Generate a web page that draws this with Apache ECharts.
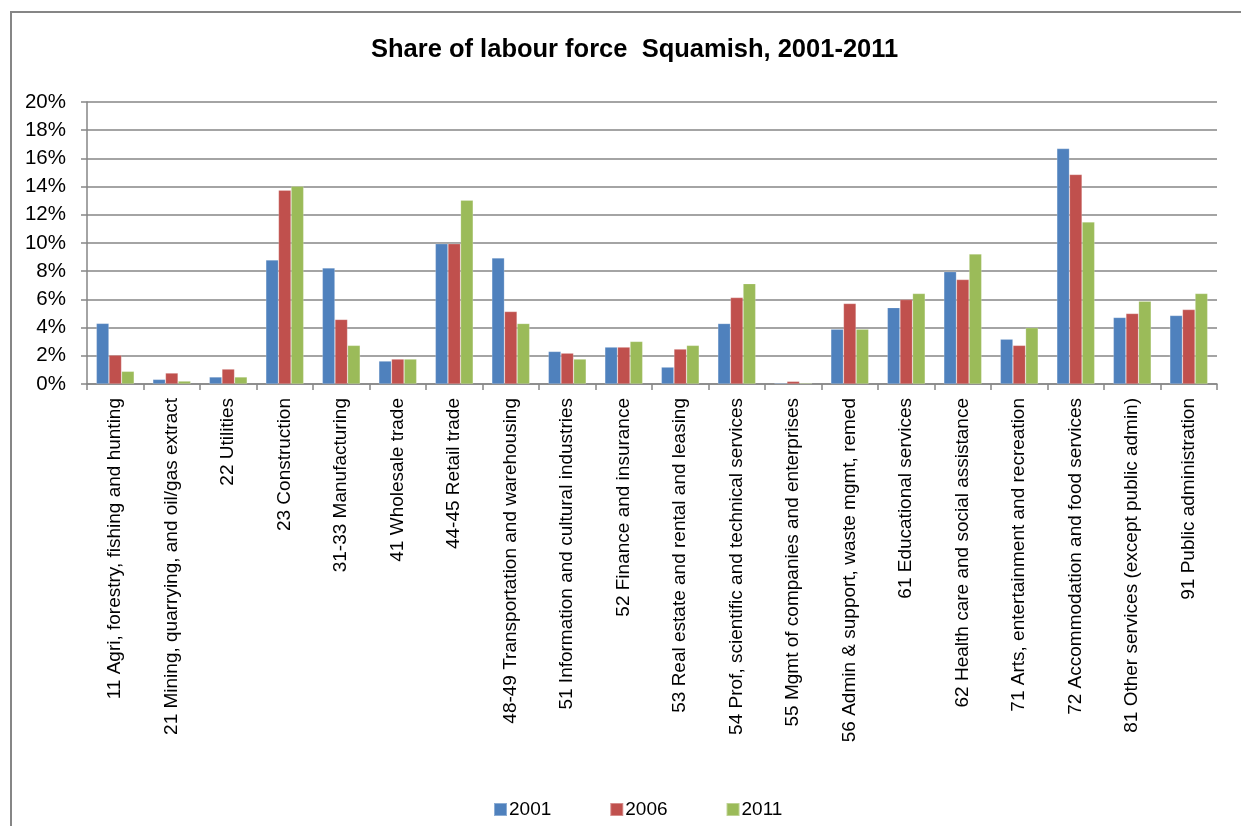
<!DOCTYPE html>
<html>
<head>
<meta charset="utf-8">
<title>Share of labour force Squamish, 2001-2011</title>
<script src="https://cdn.jsdelivr.net/npm/echarts@6/dist/echarts.min.js"></script>
<style>
  html, body { margin: 0; padding: 0; background: #fff; }
  #chart { width: 1241px; height: 826px; }
</style>
</head>
<body>
<div id="chart"></div>
<script>
// Industry categories (NAICS sectors)
const categories = [
  '11 Agri, forestry, fishing and hunting',
  '21 Mining, quarrying, and oil/gas extract',
  '22 Utilities',
  '23 Construction',
  '31-33 Manufacturing',
  '41 Wholesale trade',
  '44-45 Retail trade',
  '48-49 Transportation and warehousing',
  '51 Information and cultural industries',
  '52 Finance and insurance',
  '53 Real estate and rental and leasing',
  '54 Prof, scientific and technical services',
  '55 Mgmt of companies and enterprises',
  '56 Admin & support, waste mgmt, remed',
  '61 Educational services',
  '62 Health care and social assistance',
  '71 Arts, entertainment and recreation',
  '72 Accommodation and food services',
  '81 Other services (except public admin)',
  '91 Public administration'
];

// Share of labour force, percent
const share2001 = [4.3, 0.33, 0.5, 8.8, 8.23, 1.63, 9.95, 8.94, 2.31, 2.62, 1.2, 4.29, 0.07, 3.89, 5.42, 7.97, 3.18, 16.7, 4.72, 4.86];
const share2006 = [2.05, 0.78, 1.06, 13.75, 4.58, 1.77, 9.95, 5.14, 2.19, 2.62, 2.48, 6.13, 0.19, 5.71, 5.99, 7.41, 2.74, 14.86, 5.0, 5.28];
const share2011 = [0.9, 0.21, 0.5, 14.03, 2.74, 1.77, 13.04, 4.29, 1.77, 3.02, 2.74, 7.12, 0.07, 3.89, 6.42, 9.22, 4.0, 11.49, 5.87, 6.42];

const seriesNames = ['2001', '2006', '2011'];
const seriesColors = ['#4F81BD', '#C0504D', '#9BBB59'];

const FONT = '"Liberation Sans", Arial, sans-serif';

const chart = echarts.init(document.getElementById('chart'), null, { renderer: 'canvas' });

function barSeries(name, data, color) {
  return {
    name: name,
    type: 'bar',
    data: data,
    barGap: '0%',
    barCategoryGap: '33%',
    itemStyle: { color: color, borderColor: 'rgba(255,255,255,0.35)', borderWidth: 0.6 }
  };
}

chart.setOption({
  animation: false,
  backgroundColor: '#ffffff',
  textStyle: { fontFamily: FONT, color: '#000' },
  graphic: [{
    type: 'rect',
    shape: { x: 11, y: 12, width: 1260, height: 840 },
    style: { fill: 'none', stroke: '#868686', lineWidth: 2 },
    silent: true,
    z: -1
  }],
  title: {
    text: 'Share of labour force  Squamish, 2001-2011',
    left: 366,
    top: 32,
    textStyle: { fontFamily: FONT, fontSize: 25.5, fontWeight: 'bold', color: '#000' }
  },
  legend: {
    data: seriesNames,
    left: 488,
    top: 795,
    itemWidth: 13,
    itemHeight: 13,
    itemGap: 58,
    icon: 'rect',
    textStyle: { fontFamily: FONT, fontSize: 19, color: '#000', padding: [0, 0, 0, -3] }
  },
  grid: { left: 87, right: 24, top: 102, bottom: 442, containLabel: false },
  xAxis: {
    type: 'category',
    data: categories,
    boundaryGap: true,
    axisLine: { show: true, lineStyle: { color: '#868686', width: 1.5 } },
    axisTick: { show: true, alignWithLabel: false, length: 6, lineStyle: { color: '#868686', width: 1.5 } },
    axisLabel: {
      interval: 0,
      rotate: 90,
      margin: 14,
      fontFamily: FONT,
      fontSize: 19,
      color: '#000'
    }
  },
  yAxis: {
    type: 'value',
    min: 0,
    max: 20,
    interval: 2,
    axisLine: { show: true, lineStyle: { color: '#868686', width: 1.5 } },
    axisTick: { show: true, length: 6, lineStyle: { color: '#868686', width: 1.5 } },
    splitLine: { show: true, lineStyle: { color: '#868686', width: 1.5 } },
    axisLabel: {
      formatter: '{value}%',
      margin: 21,
      fontFamily: FONT,
      fontSize: 20.5,
      color: '#000'
    }
  },
  series: [
    barSeries(seriesNames[0], share2001, seriesColors[0]),
    barSeries(seriesNames[1], share2006, seriesColors[1]),
    barSeries(seriesNames[2], share2011, seriesColors[2])
  ]
});
</script>
</body>
</html>
